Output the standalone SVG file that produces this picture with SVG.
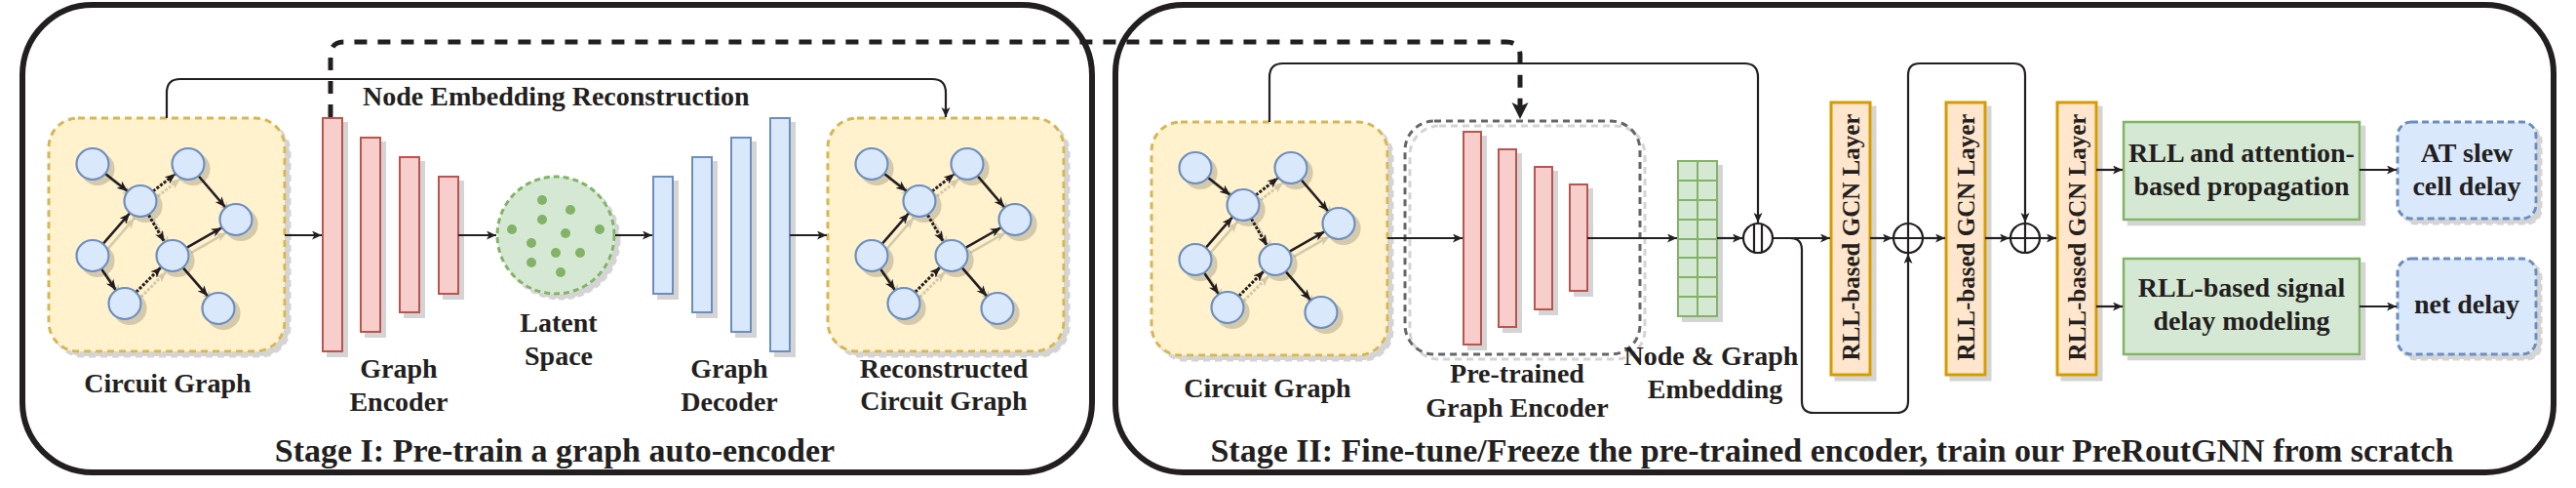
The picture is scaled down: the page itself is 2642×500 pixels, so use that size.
<svg xmlns="http://www.w3.org/2000/svg" xmlns:xlink="http://www.w3.org/1999/xlink" width="2642" height="500" viewBox="0 0 2642 500">
<style>
text{font-family:"Liberation Serif","Times New Roman",serif;font-weight:bold;fill:#231f20}
.lbl{font-size:28px;text-anchor:middle}
.title{font-size:34px;text-anchor:middle}
.gcnt{font-size:25px;text-anchor:middle}
.stage{fill:none;stroke:#231f20;stroke-width:6}
.cgbox{fill:#fff2cc;stroke:#d6b656;stroke-width:3;stroke-dasharray:7 5}
.node{fill:#dae8fc;stroke:#6c8ebf;stroke-width:2.2}
.edge{fill:none;stroke:#231f20;stroke-width:2.5;marker-end:url(#ga)}
.dot{stroke-dasharray:3 1.6;stroke-width:3}
.enc{fill:#f8cecc;stroke:#b85450;stroke-width:2}
.dec{fill:#dae8fc;stroke:#6c8ebf;stroke-width:2}
.conn{fill:none;stroke:#231f20;stroke-width:2.2}
.arr{marker-end:url(#a)}
.gcn{fill:#ffe6cc;stroke:#d79b00;stroke-width:3}
.gbox{fill:#d5e8d4;stroke:#82b366;stroke-width:2.5}
.obox{fill:#dae8fc;stroke:#6c8ebf;stroke-width:3;stroke-dasharray:7 4}
.op{fill:#fff;stroke:#231f20;stroke-width:2.2}
</style>
<defs>
<filter id="sh" x="-0.5" y="-0.5" width="2" height="2">
<feFlood flood-color="#000" flood-opacity="0.17"/>
<feComposite in2="SourceAlpha" operator="in"/>
<feOffset dx="5" dy="5" result="s"/>
<feMerge><feMergeNode in="s"/><feMergeNode in="SourceGraphic"/></feMerge>
</filter>
<marker id="a" markerUnits="userSpaceOnUse" markerWidth="11" markerHeight="10" refX="10" refY="4.5" orient="auto">
<path d="M0,0 L10,4.5 L0,9 L2.5,4.5 z" fill="#231f20"/>
</marker>
<marker id="ga" markerUnits="userSpaceOnUse" markerWidth="12" markerHeight="11" refX="11" refY="4.5" orient="auto">
<path d="M0,0 L11,4.5 L0,9 L3,4.5 z" fill="#231f20"/>
</marker>
<marker id="da" markerUnits="userSpaceOnUse" markerWidth="18" markerHeight="18" refX="17" refY="8.5" orient="auto">
<path d="M0,0 L17,8.5 L0,17 L4,8.5 z" fill="#231f20"/>
</marker>
<g id="cg">
<rect x="0" y="0" width="242" height="239" rx="30" class="cgbox" filter="url(#sh)"/>
<g filter="url(#sh)">
<path class="edge" d="M58,57.1 L81,74.9"/>
<path class="edge dot" d="M107,74.9 L130,57.1"/>
<path class="edge" d="M153.8,59.5 L181.2,91.5"/>
<path class="edge" d="M55.9,128.6 L83.1,97.4"/>
<path class="edge dot" d="M102.4,99.2 L118.6,126.8"/>
<path class="edge" d="M141.3,132.8 L177.7,112.2"/>
<path class="edge" d="M54.2,154.7 L68.8,176.3"/>
<path class="edge dot" d="M89.7,178.3 L115.3,152.7"/>
<path class="edge" d="M137.8,153.4 L163.2,182.6"/>
</g>
<g filter="url(#sh)">
<ellipse class="node" cx="45" cy="47" rx="16.5" ry="16"/>
<ellipse class="node" cx="94" cy="85" rx="16.5" ry="16"/>
<ellipse class="node" cx="143" cy="47" rx="16.5" ry="16"/>
<ellipse class="node" cx="192" cy="104" rx="16.5" ry="16"/>
<ellipse class="node" cx="45" cy="141" rx="16.5" ry="16"/>
<ellipse class="node" cx="127" cy="141" rx="16.5" ry="16"/>
<ellipse class="node" cx="78" cy="190" rx="16.5" ry="16"/>
<ellipse class="node" cx="174" cy="195" rx="16.5" ry="16"/>
</g>
</g>
</defs>
<rect width="2642" height="500" fill="#fff"/>

<!-- Stage frames -->
<g id="stage1">
<rect class="stage" x="23" y="5" width="1097" height="479" rx="72"/>
<text class="title" x="569" y="473">Stage I: Pre-train a graph auto-encoder</text>
</g>
<g id="stage2">
<rect class="stage" x="1144" y="5" width="1475" height="479" rx="70"/>
<text class="title" x="1879" y="473">Stage II: Fine-tune/Freeze the pre-trained encoder, train our PreRoutGNN from scratch</text>
</g>

<!-- Stage I nodes -->
<g id="circuit1">
<use xlink:href="#cg" transform="translate(50,121)"/>
<text class="lbl" x="172" y="402">Circuit Graph</text>
</g>
<g id="encoder1">
<g filter="url(#sh)">
<rect class="enc" x="331" y="121" width="20" height="239"/>
<rect class="enc" x="370" y="141" width="20" height="199"/>
<rect class="enc" x="410" y="161" width="20" height="159"/>
<rect class="enc" x="450" y="181" width="20" height="120"/>
</g>
<text class="lbl" x="409" y="387">Graph</text>
<text class="lbl" x="409" y="421">Encoder</text>
</g>
<g id="latent">
<circle cx="570" cy="241" r="60" fill="#d5e8d4" stroke="#82b366" stroke-width="3" stroke-dasharray="6 4" filter="url(#sh)"/>
<g fill="#82b366">
<circle cx="556" cy="205" r="5"/><circle cx="585" cy="215" r="5"/><circle cx="556" cy="225" r="5"/>
<circle cx="525" cy="235" r="5"/><circle cx="615" cy="235" r="5"/><circle cx="580" cy="239" r="5"/>
<circle cx="545" cy="249" r="5"/><circle cx="570" cy="259" r="5"/><circle cx="595" cy="259" r="5"/>
<circle cx="545" cy="269" r="5"/><circle cx="575" cy="279" r="5"/>
</g>
<text class="lbl" x="573" y="340">Latent</text>
<text class="lbl" x="573" y="374">Space</text>
</g>
<g id="decoder1">
<g filter="url(#sh)">
<rect class="dec" x="670" y="181" width="20" height="120"/>
<rect class="dec" x="710" y="161" width="20" height="159"/>
<rect class="dec" x="750" y="141" width="20" height="199"/>
<rect class="dec" x="790" y="121" width="20" height="239"/>
</g>
<text class="lbl" x="748" y="387">Graph</text>
<text class="lbl" x="748" y="421">Decoder</text>
</g>
<g id="recon">
<use xlink:href="#cg" transform="translate(849,121)"/>
<text class="lbl" x="968" y="387">Reconstructed</text>
<text class="lbl" x="968" y="420">Circuit Graph</text>
</g>

<!-- Stage II nodes -->
<g id="circuit2">
<use xlink:href="#cg" transform="translate(1181,125)"/>
<text class="lbl" x="1300" y="407">Circuit Graph</text>
</g>
<g id="pretrained">
<rect x="1441" y="124" width="241" height="239" rx="30" fill="none" stroke="#666" stroke-width="3" stroke-dasharray="7 5" filter="url(#sh)"/>
<g filter="url(#sh)">
<rect class="enc" x="1501" y="135" width="18" height="218"/>
<rect class="enc" x="1537" y="153" width="18" height="182"/>
<rect class="enc" x="1574" y="171" width="18" height="146"/>
<rect class="enc" x="1610" y="189" width="18" height="109"/>
</g>
<text class="lbl" x="1556" y="392">Pre-trained</text>
<text class="lbl" x="1556" y="427">Graph Encoder</text>
</g>
<g id="embedding">
<g filter="url(#sh)">
<rect x="1721" y="165" width="40" height="159" fill="#d5e8d4" stroke="#82b366" stroke-width="2"/>
<path d="M1741,165 V324 M1721,185 H1761 M1721,205 H1761 M1721,225 H1761 M1721,245 H1761 M1721,264 H1761 M1721,284 H1761 M1721,304 H1761" stroke="#82b366" stroke-width="2" fill="none"/>
</g>
<text class="lbl" x="1755" y="374">Node &amp; Graph</text>
<text class="lbl" x="1759" y="408">Embedding</text>
</g>
<g id="concat">
<circle class="op" cx="1803" cy="244" r="15"/>
<path d="M1799,229.5 V258.5 M1807,229.5 V258.5" stroke="#231f20" stroke-width="2.2"/>
</g>
<g id="gcn1">
<rect class="gcn" x="1878" y="105" width="40" height="279" filter="url(#sh)"/>
<text class="gcnt" transform="translate(1907,243) rotate(-90)">RLL-based GCN Layer</text>
</g>
<g id="plus1">
<circle class="op" cx="1957" cy="244" r="15"/>
<path d="M1942,244 H1972 M1957,229 V259" stroke="#231f20" stroke-width="2.2"/>
</g>
<g id="gcn2">
<rect class="gcn" x="1996" y="105" width="40" height="279" filter="url(#sh)"/>
<text class="gcnt" transform="translate(2025,243) rotate(-90)">RLL-based GCN Layer</text>
</g>
<g id="plus2">
<circle class="op" cx="2077" cy="244" r="15"/>
<path d="M2062,244 H2092 M2077,229 V259" stroke="#231f20" stroke-width="2.2"/>
</g>
<g id="gcn3">
<rect class="gcn" x="2110" y="105" width="40" height="279" filter="url(#sh)"/>
<text class="gcnt" transform="translate(2139,243) rotate(-90)">RLL-based GCN Layer</text>
</g>
<g id="prop">
<rect class="gbox" x="2178" y="125" width="242" height="100" filter="url(#sh)"/>
<text class="lbl" x="2299" y="166">RLL and attention-</text>
<text class="lbl" x="2299" y="200">based propagation</text>
</g>
<g id="signal">
<rect class="gbox" x="2178" y="265" width="242" height="98" filter="url(#sh)"/>
<text class="lbl" x="2299" y="304">RLL-based signal</text>
<text class="lbl" x="2299" y="338">delay modeling</text>
</g>
<g id="out1">
<rect class="obox" x="2459" y="125" width="142" height="99" rx="14" filter="url(#sh)"/>
<text class="lbl" x="2530" y="166">AT slew</text>
<text class="lbl" x="2530" y="200">cell delay</text>
</g>
<g id="out2">
<rect class="obox" x="2459" y="265" width="142" height="98" rx="14" filter="url(#sh)"/>
<text class="lbl" x="2530" y="321">net delay</text>
</g>

<!-- Connectors -->
<g id="connectors">
<path class="conn arr" d="M171,121 V95 Q171,81 185,81 H956 Q970,81 970,95 V120"/>
<text x="372" y="108" style="font-size:28px">Node Embedding Reconstruction</text>
<path class="conn arr" d="M292,241 H330"/>
<path class="conn arr" d="M470,241 H509"/>
<path class="conn arr" d="M631,241 H669"/>
<path class="conn arr" d="M810,241 H848"/>

<path class="conn arr" d="M1302,125 V79 Q1302,65 1316,65 H1789 Q1803,65 1803,79 V228"/>
<path class="conn arr" d="M1423,244 H1500"/>
<path class="conn arr" d="M1628,244 H1720"/>
<path class="conn arr" d="M1761,244 H1787"/>
<path class="conn arr" d="M1818,244 H1877"/>
<path class="conn arr" d="M1836,244 Q1848,244 1848,256 V411 Q1848,423 1860,423 H1945 Q1957,423 1957,411 V260"/>
<path class="conn arr" d="M1957,229 V77 Q1957,65 1969,65 H2065 Q2077,65 2077,77 V228"/>
<path class="conn arr" d="M1918,244 H1941"/>
<path class="conn arr" d="M1972,244 H1995"/>
<path class="conn arr" d="M2036,244 H2061"/>
<path class="conn arr" d="M2092,244 H2109"/>
<path class="conn arr" d="M2150,174 H2177"/>
<path class="conn arr" d="M2150,314 H2177"/>
<path class="conn arr" d="M2420,174 H2458"/>
<path class="conn arr" d="M2420,314 H2458"/>

<path d="M339,120 V57 Q339,43 353,43 H1545 Q1559,43 1559,57 V122" fill="none" stroke="#231f20" stroke-width="5" stroke-dasharray="13 11" marker-end="url(#da)"/>
</g>
</svg>
